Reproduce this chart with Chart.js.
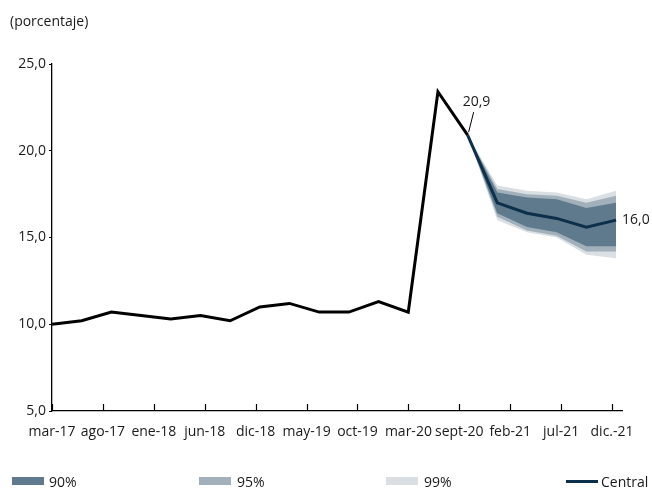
<!DOCTYPE html>
<html>
<head>
<meta charset="utf-8">
<script src="https://cdn.jsdelivr.net/npm/chart.js@4.4.1/dist/chart.umd.min.js"></script>
<style>
    body { margin: 0; background: #fff; font-family: 'Open Sans', sans-serif; color: #1a1a1a; }
    #wrap { position: relative; width: 652px; height: 489px; overflow: hidden; }
    #wrap canvas { position: absolute; left: 0; top: 0; }
    .unit { position: absolute; left: 10px; top: 11px; font-size: 14px; line-height: 20px; }
    .leg { position: absolute; font-size: 14px; line-height: 20px; top: 472px; }
    .sw { position: absolute; top: 477px; width: 32px; height: 8px; }
</style>
</head>
<body>
<div id="wrap">
    <canvas id="fanChart" width="652" height="489"></canvas>
    <div class="unit">(porcentaje)</div>
    <div id="legend"></div>
</div>
<script>
// --- Datos (trimestrales) ---
const categories = ['mar-17', 'jun-17', 'sept-17', 'dic-17', 'mar-18', 'jun-18', 'sept-18', 'dic-18',
    'mar-19', 'jun-19', 'sept-19', 'dic-19', 'mar-20', 'jun-20', 'sept-20', 'dic-20',
    'mar-21', 'jun-21', 'sept-21', 'dic-21'];
const observed = [10.0, 10.2, 10.7, 10.5, 10.3, 10.5, 10.2, 11.0, 11.2, 10.7, 10.7, 11.3, 10.7, 23.4, 20.9,
    null, null, null, null, null];
const central = [null, null, null, null, null, null, null, null, null, null, null, null, null, null, 20.9,
    17.0, 16.4, 16.1, 15.6, 16.0];
// bandas desde sept-20
const bandStart = 14;
const upper90 = [20.9, 17.6, 17.3, 17.2, 16.7, 17.0];
const lower90 = [20.9, 16.4, 15.6, 15.3, 14.5, 14.5];
const upper95 = [20.9, 17.8, 17.5, 17.4, 17.0, 17.4];
const lower95 = [20.9, 16.2, 15.4, 15.1, 14.2, 14.2];
const upper99 = [20.9, 18.0, 17.7, 17.6, 17.2, 17.7];
const lower99 = [20.9, 16.0, 15.3, 15.0, 14.0, 13.8];
const xTickLabels = ['mar-17', 'ago-17', 'ene-18', 'jun-18', 'dic-18', 'may-19', 'oct-19', 'mar-20',
    'sept-20', 'feb-21', 'jul-21', 'dic.-21'];
const yTicks = [5, 10, 15, 20, 25];
const legendLabels = ['90%', '95%', '99%', 'Central'];

// --- Estilos ---
const TICK_STEP = 1.715; // separación de etiquetas del eje x (en trimestres)
const FONT_SIZE = 14;
const colors = { c90: '#5f7a8d', c95: '#a1b0bb', c99: '#dadfe3', central: '#0c2f4b', hist: '#000000' };
const fmt = v => v.toFixed(1).replace('.', ',');

const toPoints = vals => vals.map((v, i) => ({ x: i, y: v })).filter(p => p.y !== null);
const bandPoints = vals => vals.map((v, i) => ({ x: i + bandStart, y: v }));

const band = (data, color, target) => ({
    data: bandPoints(data),
    borderWidth: 0,
    pointRadius: 0,
    backgroundColor: color,
    fill: target === undefined ? false : { target: target }
});

// marcas del eje x hacia adentro + etiquetas de valor
const extras = {
    id: 'extras',
    afterDraw(chart) {
        const { ctx, scales: { x, y }, chartArea } = chart;
        ctx.save();
        ctx.strokeStyle = '#000';
        ctx.lineWidth = 1.2;
        x.ticks.forEach(t => {
            const px = Math.round(x.getPixelForValue(t.value)) + 0.5;
            ctx.beginPath();
            ctx.moveTo(px, chartArea.bottom);
            ctx.lineTo(px, chartArea.bottom - 7);
            ctx.stroke();
        });

        ctx.font = FONT_SIZE + 'px "Open Sans"';
        ctx.fillStyle = '#1a1a1a';
        ctx.textBaseline = 'middle';
        ctx.textAlign = 'left';

        // 20,9 con línea guía
        const i1 = bandStart;
        const p1x = x.getPixelForValue(i1), p1y = y.getPixelForValue(central[i1]);
        ctx.lineWidth = 1;
        ctx.beginPath();
        ctx.moveTo(p1x + 1, p1y - 3);
        ctx.lineTo(p1x + 6, p1y - 23);
        ctx.stroke();
        ctx.fillText(fmt(central[i1]), p1x - 5, p1y - 33);

        // 16,0 al final
        const i2 = central.length - 1;
        const p2x = x.getPixelForValue(i2), p2y = y.getPixelForValue(central[i2]);
        ctx.fillText(fmt(central[i2]), p2x + 6, p2y);
        ctx.restore();
    }
};

new Chart(document.getElementById('fanChart'), {
    type: 'line',
    data: {
        datasets: [
            { data: toPoints(observed), borderColor: colors.hist, borderWidth: 3, pointRadius: 0, borderJoinStyle: 'miter', fill: false },
            { data: toPoints(central), borderColor: colors.central, borderWidth: 3, pointRadius: 0, borderJoinStyle: 'miter', fill: false },
            band(upper90, colors.c90, 3),
            band(lower90, colors.c90),
            band(upper95, colors.c95, 5),
            band(lower95, colors.c95),
            band(upper99, colors.c99, 7),
            band(lower99, colors.c99)
        ]
    },
    options: {
        responsive: false,
        animation: false,
        layout: { padding: { left: 0, right: 30, top: 64, bottom: 28 } },
        plugins: { legend: { display: false }, tooltip: { enabled: false }, title: { display: false } },
        scales: {
            x: {
                type: 'linear',
                min: 0,
                max: 19.2,
                afterBuildTicks: scale => { scale.ticks = xTickLabels.map((_, k) => ({ value: k * TICK_STEP })); },
                afterFit: scale => { scale.height = 50; },
                grid: { display: false, drawTicks: false },
                border: { display: true, color: '#000', width: 1.3 },
                ticks: {
                    autoSkip: false,
                    maxRotation: 0,
                    padding: 13,
                    color: '#1a1a1a',
                    font: { family: 'Open Sans', size: FONT_SIZE },
                    callback: (v, i) => xTickLabels[i]
                }
            },
            y: {
                min: yTicks[0],
                max: yTicks[yTicks.length - 1],
                afterBuildTicks: scale => { scale.ticks = yTicks.map(v => ({ value: v })); },
                afterFit: scale => { scale.width = 52; },
                grid: { display: true, drawOnChartArea: false, drawTicks: true, tickLength: 3, color: '#000' },
                border: { display: true, color: '#000', width: 1.3 },
                ticks: {
                    padding: 3,
                    color: '#1a1a1a',
                    font: { family: 'Open Sans', size: FONT_SIZE },
                    callback: v => fmt(v)
                }
            }
        }
    },
    plugins: [extras]
});

// --- Leyenda ---
const legend = document.getElementById('legend');
const legendItems = [
    { box: 12, text: 49, color: colors.c90 },
    { box: 199, text: 237, color: colors.c95 },
    { box: 386, text: 424, color: colors.c99 },
    { box: 566, text: 601, color: colors.central, line: true }
];
legendItems.forEach((it, k) => {
    const sw = document.createElement('div');
    sw.className = 'sw';
    sw.style.left = it.box + 'px';
    sw.style.background = it.color;
    if (it.line) { sw.style.height = '3px'; sw.style.top = '480px'; }
    legend.appendChild(sw);
    const tx = document.createElement('div');
    tx.className = 'leg';
    tx.style.left = it.text + 'px';
    tx.textContent = legendLabels[k];
    legend.appendChild(tx);
});
</script>
</body>
</html>
